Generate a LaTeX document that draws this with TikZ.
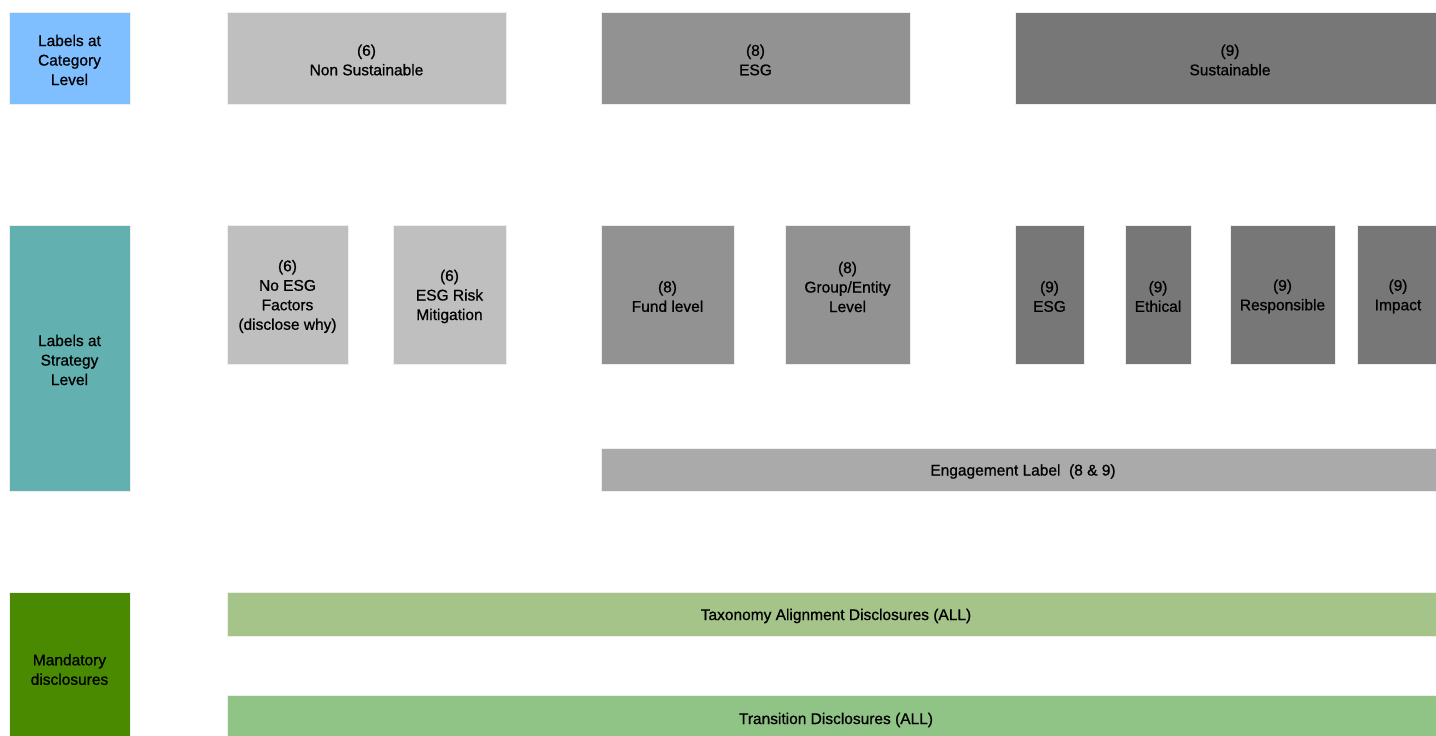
\documentclass[tikz,border=0pt]{standalone}
\usepackage{fontspec}
\setmainfont{Liberation Sans}[FakeBold=0.8]
\definecolor{cblue}{HTML}{80BFFF}
\definecolor{cteal}{HTML}{62B1B0}
\definecolor{cgreen}{HTML}{4A8A00}
\definecolor{glight}{HTML}{BFBFBF}
\definecolor{gmid}{HTML}{929292}
\definecolor{gdark}{HTML}{777777}
\definecolor{geng}{HTML}{AAAAAA}
\definecolor{ctax}{HTML}{A5C48A}
\definecolor{ctrans}{HTML}{90C386}
\definecolor{edge}{HTML}{EEEEEE}
\begin{document}
\begin{tikzpicture}[x=1pt,y=-1pt,
  box/.style={draw=edge, line width=0.6pt, rectangle, inner sep=0pt},
  lbl/.style={align=center, font=\fontsize{15.5}{19.5}\selectfont, text=black},
  txt/.style={label={[lbl, yshift=-2pt]center:#1}},
  txtup/.style={label={[lbl, yshift=7.5pt]center:#1}},
  wh/.style n args={2}{minimum width=#1pt, minimum height=#2pt}]
\useasboundingbox (0,0) rectangle (1436,736);
\fill[white] (0,0) rectangle (1436,736);
% left column
\node[box, fill=cblue, wh={121}{92}, txt={Labels at\\Category\\Level}] (cat) at (69.5,58) {};
\node[box, fill=cteal, wh={121}{266}, txt={Labels at\\Strategy\\Level}] (strat) at (69.5,358) {};
\node[box, fill=cgreen, wh={121}{151}, txt={Mandatory\\disclosures}] (mand) at (69.5,667.5) {};
% category level
\node[box, fill=glight, wh={279}{92}, txt={(6)\\Non Sustainable}] (ns) at (366.5,58) {};
\node[box, fill=gmid, wh={309}{92}, txt={(8)\\ESG}] (esg8) at (755.5,58) {};
\node[box, fill=gdark, wh={430}{92}, txt={(9)\\Sustainable}] (sus) at (1230,58) {};
% strategy level
\node[box, fill=glight, wh={121}{139}, txt={(6)\\No ESG\\Factors\\(disclose why)}] (noesg) at (287.5,294.5) {};
\node[box, fill=glight, wh={113}{139}, txt={(6)\\ESG Risk\\Mitigation}] (risk) at (449.5,294.5) {};
\node[box, fill=gmid, wh={133}{139}, txt={(8)\\Fund level}] (fund) at (667.5,294.5) {};
\node[box, fill=gmid, wh={125}{139}, txtup={(8)\\Group/Entity\\Level}] (group) at (847.5,294.5) {};
\node[box, fill=gdark, wh={69}{139}, txt={(9)\\ESG}] (esg9) at (1049.5,294.5) {};
\node[box, fill=gdark, wh={66}{139}, txt={(9)\\Ethical}] (eth) at (1158,294.5) {};
\node[box, fill=gdark, wh={105}{139}, txt={(9)\\Responsible}] (resp) at (1282.5,294.5) {};
\node[box, fill=gdark, wh={82}{139}, txt={(9)\\Impact}] (imp) at (1398,294.5) {};
\node[box, fill=geng, wh={844}{43}, txt={Engagement Label\ \ (8 \& 9)}] (eng) at (1023,469.5) {};
% mandatory
\node[box, fill=ctax, wh={1218}{44}, txt={Taxonomy Alignment Disclosures (ALL)}] (tax) at (836,614) {};
\node[box, fill=ctrans, wh={1218}{46}, txt={Transition Disclosures (ALL)}] (trans) at (836,718) {};
\end{tikzpicture}
\end{document}
